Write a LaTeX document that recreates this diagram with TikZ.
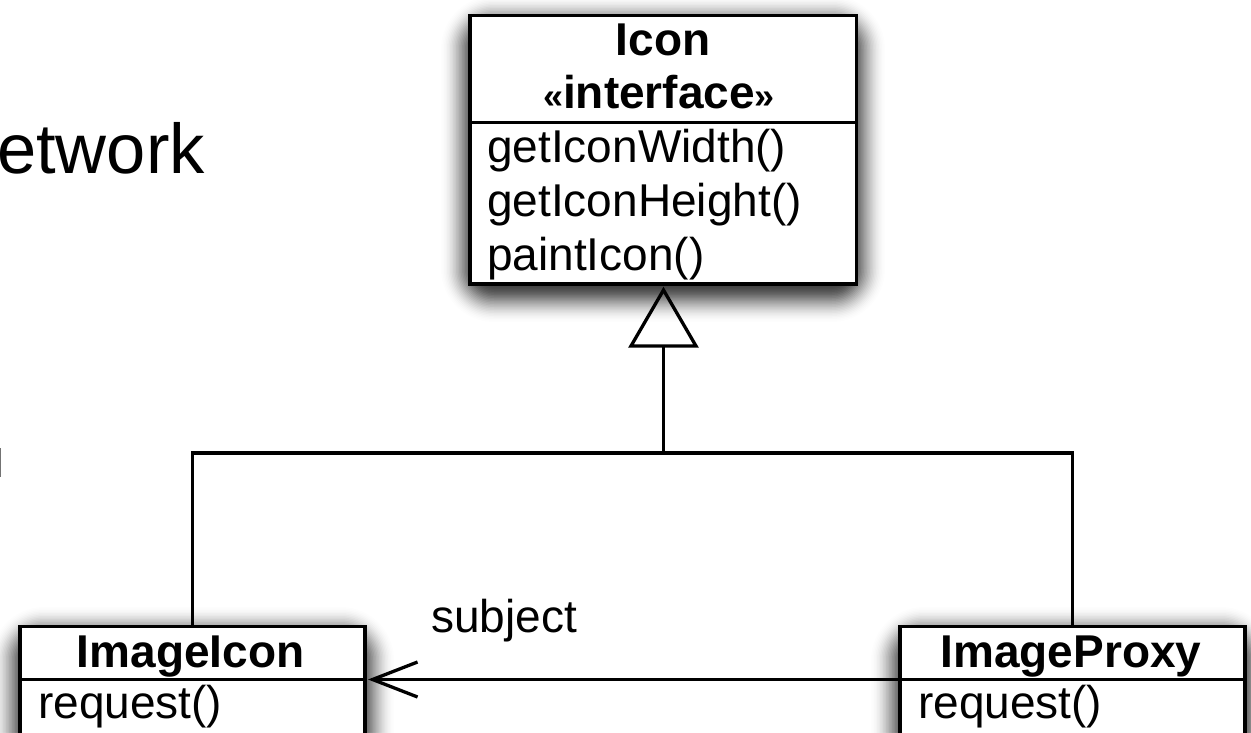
\documentclass[tikz,border=0pt]{standalone}
\usepackage{fontspec}
\setmainfont{Liberation Sans}
\usetikzlibrary{arrows.meta}
\newcommand{\softshadow}[4]{%
  \foreach \rr in {27,25.5,...,-22}{%
    \pgfmathsetmacro{\cc}{max(\rr+26,1)}%
    \pgfmathsetmacro{\aa}{0.005+0.085*(1-abs(\rr)/28)^1.3}%
    \fill[black,fill opacity=\aa,rounded corners=\cc pt]
      ({#1-\rr},{#2+9-\rr}) rectangle ({#3+\rr},{#4+9+\rr});
  }%
}
\tikzset{
  umlbox/.style={draw=black,fill=white,line width=3.3pt,rectangle,inner sep=0pt,anchor=north west,line join=miter},
  wire/.style={draw=black,line width=3.3pt},
  txt/.style={inner sep=0pt,anchor=base west,font=\fontsize{46}{54}\selectfont,text=black},
  ctxt/.style={txt,anchor=base,font=\fontsize{46}{54}\selectfont\bfseries}
}
\begin{document}
\begin{tikzpicture}[x=1pt,y=-1pt]
\useasboundingbox (0,0) rectangle (1251,732);
\clip (0,0) rectangle (1251,732);
\fill[white] (0,0) rectangle (1251,732);
% slide text showing behind
\node[txt,font=\fontsize{70.5}{80}\selectfont] (net) at (-3,173) {etwork};
\fill[black!55] (0,448) rectangle (1.2,477);
% shadows
\softshadow{468}{14}{858}{286}
\softshadow{18}{625}{367}{780}
\softshadow{898}{625}{1247}{780}
% boxes
\node[umlbox,minimum width=386.7pt,minimum height=268.4pt] (icon) at (468.3,14) {};
\node[umlbox,minimum width=345.1pt,minimum height=153pt] (imgicon) at (18.3,625) {};
\node[umlbox,minimum width=345.1pt,minimum height=153pt] (imgproxy) at (898.3,625) {};
% dividers
\coordinate (iconL) at (468.3,122.8);
\coordinate (iconR) at (858.3,122.8);
\coordinate (aL) at (18.3,679.5);
\coordinate (aR) at (366.7,679.5);
\coordinate (bL) at (898.3,679.5);
\coordinate (bR) at (1246.7,679.5);
\draw[wire] (iconL) -- (iconR);
\draw[wire] (aL) -- (aR);
\draw[wire] (bL) -- (bR);
% texts
\node[ctxt] (t1) at (663,55) {Icon};
\node[txt,anchor=base] (t2) at (659,108) {{\fontsize{36}{54}\selectfont\bfseries «}{\bfseries interface}{\fontsize{36}{54}\selectfont\bfseries »}};
\node[txt] (m1) at (487,162) {getIconWidth()};
\node[txt] (m2) at (487,216) {getIconHeight()};
\node[txt] (m3) at (487,270) {paintIcon()};
\node[ctxt] (t3) at (190.5,667) {ImageIcon};
\node[txt] (r1) at (38,718) {request()};
\node[ctxt] (t4) at (1071,667) {ImageProxy};
\node[txt] (r2) at (918,718) {request()};
\node[txt] (subj) at (431,632) {subject};
% generalization
\coordinate (apex) at (663.5,290);
\coordinate (baseL) at (631,346);
\coordinate (baseR) at (696,346);
\coordinate (baseM) at (663.5,346);
\coordinate (bus) at (663.5,453);
\draw[wire,line join=miter] (apex) -- (baseR) -- (baseL) -- cycle;
\draw[wire] (baseM) -- (bus);
\draw[wire,line join=miter] (imgicon.north) |- (bus) -| (imgproxy.north);
% association
\coordinate (tip) at (368,679.5);
\draw[wire,-{Straight Barb[length=45pt,width=35pt,line width=3.3pt]}] (bL) -- (tip);
\end{tikzpicture}
\end{document}
